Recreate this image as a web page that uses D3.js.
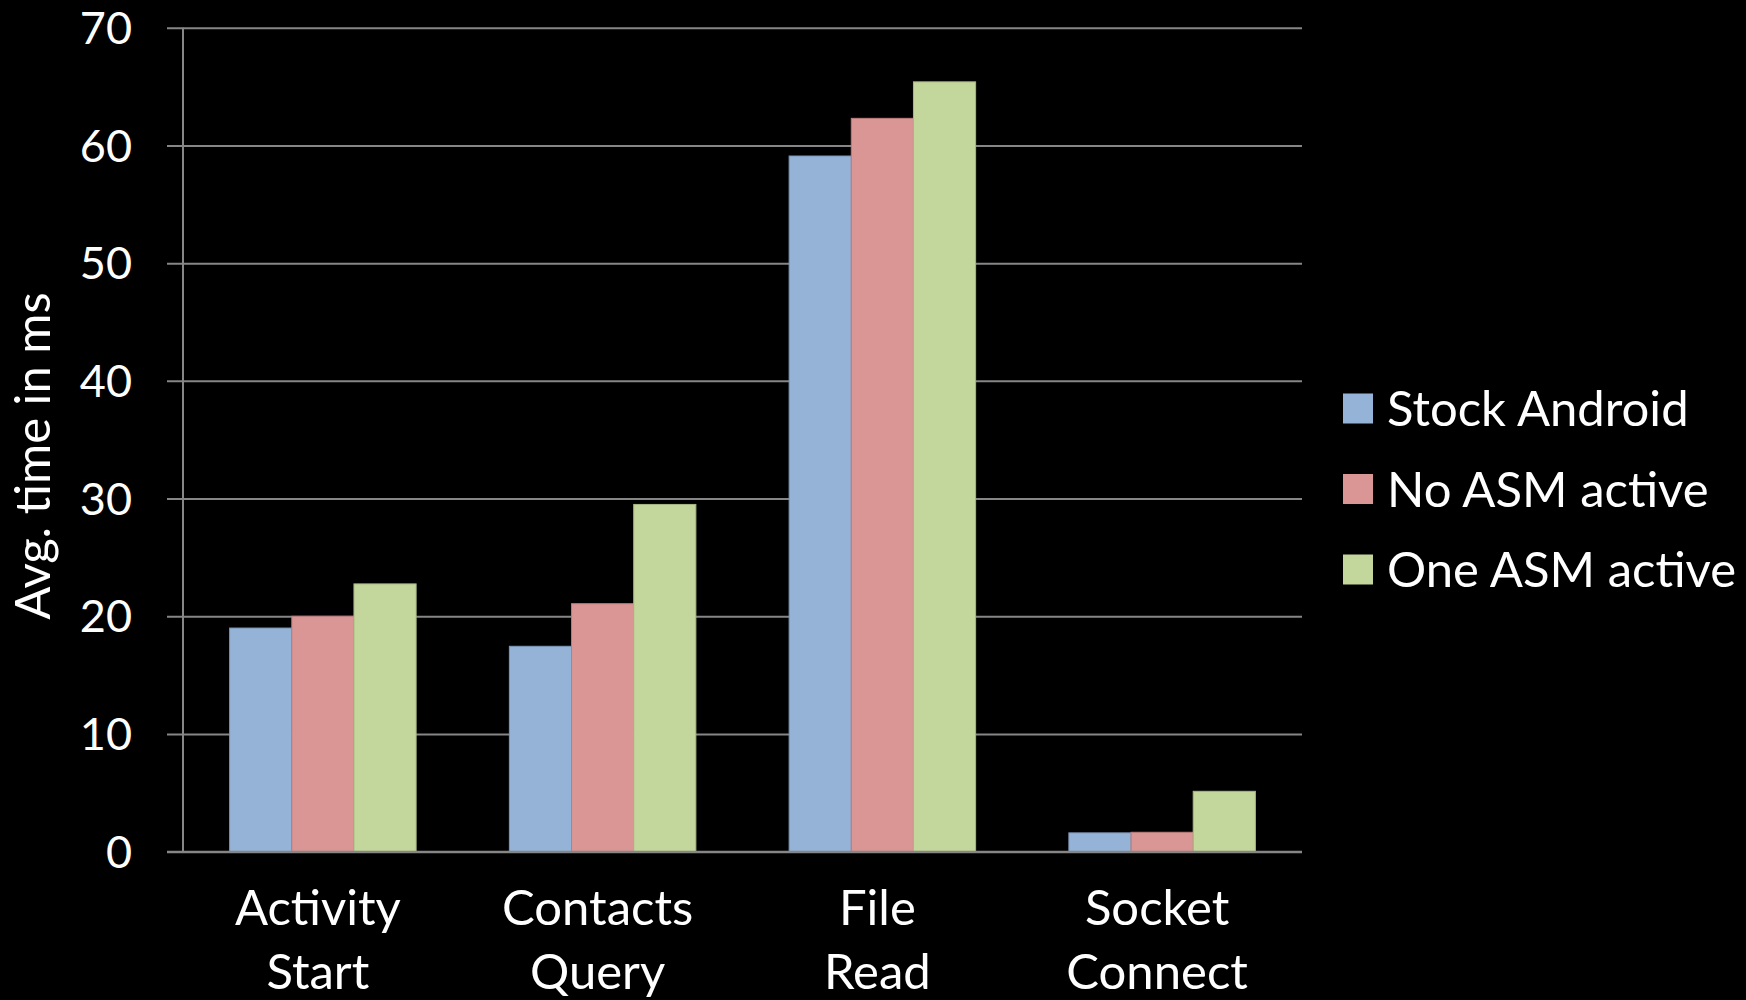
<!DOCTYPE html>
<html>
<head>
<meta charset="utf-8">
<script src="https://cdn.jsdelivr.net/npm/d3@7"></script>
<style>
  html, body { margin: 0; padding: 0; background: #000; }
  svg { display: block; font-family: Lato, "Open Sans", sans-serif; }
</style>
</head>
<body>
<svg id="chart" width="1746" height="1000"></svg>
<script>
// Avg. time per operation, three configurations
const categories = [['Activity', 'Start'], ['Contacts', 'Query'], ['File', 'Read'], ['Socket', 'Connect']];
const seriesNames = ['Stock Android', 'No ASM active', 'One ASM active'];
const seriesColors = ['#95b3d7', '#d99694', '#c3d69b'];
const seriesStrokes = ['#7d97b8', '#b97d7b', '#a6b884'];
const stockAndroid = [19.0, 17.45, 59.1, 1.6];
const noAsmActive = [20.0, 21.07, 62.3, 1.65];
const oneAsmActive = [22.75, 29.5, 65.4, 5.13];
const yTicks = [0, 10, 20, 30, 40, 50, 60, 70];

const seriesValues = [stockAndroid, noAsmActive, oneAsmActive];
const svg = d3.select('#chart');

const plot = { left: 183, right: 1302, top: 27.7, bottom: 851.7 };
const fontSize = 49;
const tickFontSize = 45;

const x = d3.scaleBand()
  .domain(d3.range(categories.length))
  .range([plot.left, plot.right])
  .paddingInner(1 / 3)
  .paddingOuter(1 / 6);
const xs = d3.scaleBand()
  .domain(d3.range(seriesNames.length))
  .range([0, x.bandwidth()]);
const y = d3.scaleLinear().domain([0, 70]).range([plot.bottom, plot.top]);

// gridlines, with the ticks sticking out left of the axis
const yg = svg.append('g')
  .attr('transform', `translate(${plot.right},0)`)
  .call(d3.axisLeft(y).tickValues(yTicks).tickSize(plot.right - plot.left + 16));
yg.select('.domain').remove();
yg.selectAll('.tick line')
  .attr('stroke', '#868686')
  .attr('stroke-width', 2);
yg.selectAll('.tick text').remove();

svg.append('g').selectAll('text')
  .data(yTicks)
  .join('text')
  .attr('x', 132)
  .attr('y', (d) => y(d))
  .attr('dy', '0.36em')
  .attr('text-anchor', 'end')
  .attr('fill', '#fff')
  .attr('font-size', tickFontSize)
  .text((d) => d);

svg.append('line')
  .attr('x1', plot.left).attr('x2', plot.left)
  .attr('y1', plot.top).attr('y2', plot.bottom)
  .attr('stroke', '#868686')
  .attr('stroke-width', 2);

// bars
const groups = svg.append('g').selectAll('g')
  .data(categories)
  .join('g')
  .attr('transform', (d, i) => `translate(${x(i)},0)`);
groups.selectAll('rect')
  .data((d, i) => seriesValues.map((vals, s) => ({ s, v: vals[i] })))
  .join('rect')
  .attr('x', (d) => xs(d.s))
  .attr('width', xs.bandwidth())
  .attr('y', (d) => y(d.v))
  .attr('height', (d) => y(0) - y(d.v))
  .attr('fill', (d) => seriesColors[d.s])
  .attr('stroke', (d) => seriesStrokes[d.s])
  .attr('stroke-width', 1);

// baseline drawn over the bars' bottoms
svg.append('line')
  .attr('x1', plot.left - 16).attr('x2', plot.right)
  .attr('y1', y(0)).attr('y2', y(0))
  .attr('stroke', '#868686')
  .attr('stroke-width', 2);

// category labels, two lines each
const catLabels = svg.append('g').selectAll('text')
  .data(categories)
  .join('text')
  .attr('x', (d, i) => x(i) + x.bandwidth() / 2 - 5)
  .attr('y', 925)
  .attr('text-anchor', 'middle')
  .attr('fill', '#fff')
  .attr('font-size', fontSize);
catLabels.selectAll('tspan')
  .data((d) => d)
  .join('tspan')
  .attr('x', function () { return this.parentNode.getAttribute('x'); })
  .attr('dy', (d, i) => (i === 0 ? 0 : 64))
  .text((d) => d);

// y axis title
svg.append('text')
  .attr('transform', 'translate(50,456) rotate(-90)')
  .attr('text-anchor', 'middle')
  .attr('fill', '#fff')
  .attr('font-size', fontSize)
  .text('Avg. time in ms');

// legend
const legendRow = d3.scalePoint().domain(d3.range(seriesNames.length)).range([408.5, 569.5]);
const legend = svg.append('g').selectAll('g')
  .data(seriesNames)
  .join('g')
  .attr('transform', (d, i) => `translate(1343,${legendRow(i)})`);
legend.append('rect')
  .attr('x', 0).attr('y', -15)
  .attr('width', 30).attr('height', 30)
  .attr('fill', (d, i) => seriesColors[i]);
legend.append('text')
  .attr('x', 44)
  .attr('dy', '0.36em')
  .attr('fill', '#fff')
  .attr('font-size', fontSize)
  .text((d) => d);
</script>
</body>
</html>
